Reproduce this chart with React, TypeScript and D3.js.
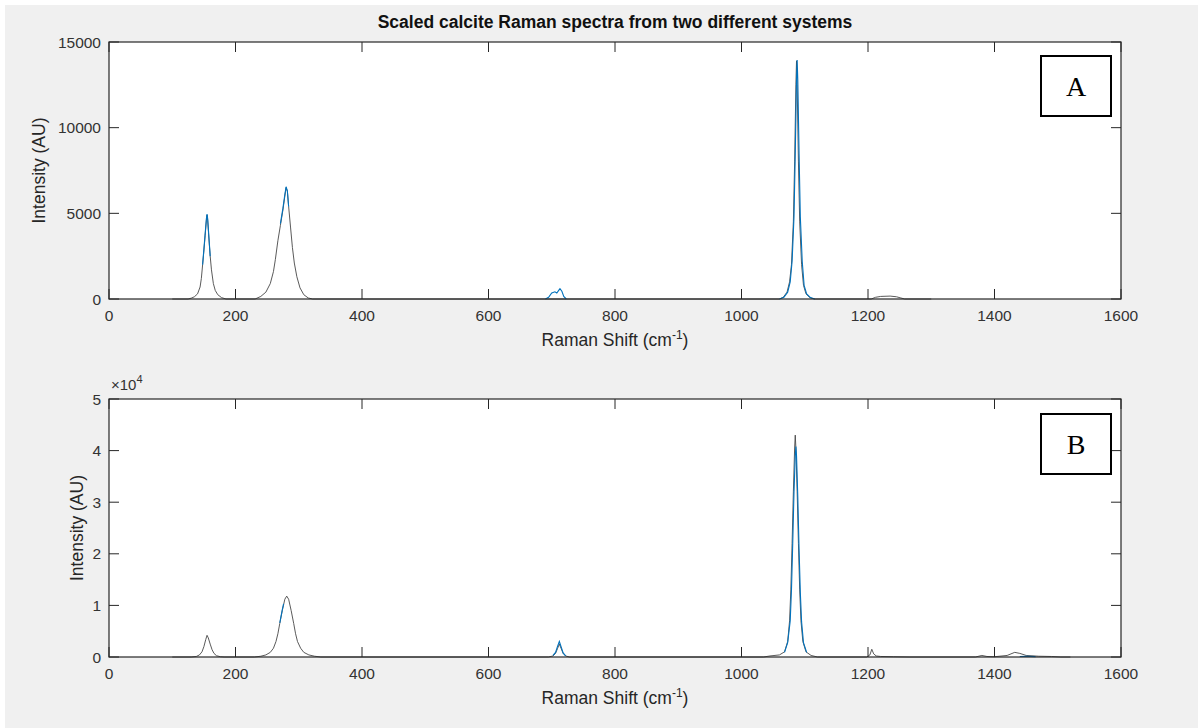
import React from "react";
import * as d3 from "d3";

// ---------- data ----------
const xTicks = [0, 200, 400, 600, 800, 1000, 1200, 1400, 1600];
const aYTicks = [0, 5000, 10000, 15000];
const bYTicks = [0, 10000, 20000, 30000, 40000, 50000];

const chartTitle = "Scaled calcite Raman spectra from two different systems";
const panelLabels = ["A", "B"];

// Panel A: fitted spectrum (dark) and measured spectrum (blue), [shift, intensity]
const aFit: [number, number][] = [
  [100, 0], [125, 0], [130, 50], [135, 130], [140, 300], [144, 700], [146, 1200], [148, 2000],
  [150, 2800], [152, 3700], [154, 4600], [155, 4900], [156, 4600], [158, 3500], [160, 2500],
  [162, 1700], [165, 900], [168, 500], [172, 250], [178, 80], [185, 0],
  [231, 0], [240, 150], [248, 400], [255, 900], [260, 1600], [263, 2300], [267, 3400], [271, 4300],
  [275, 5200], [278, 6000], [280, 6500], [282, 6300], [284, 5400], [287, 4200], [290, 3000],
  [293, 2100], [297, 1300], [302, 650], [308, 250], [315, 60], [322, 0],
  [1060, 0], [1066, 100], [1072, 400], [1076, 1000], [1079, 2000], [1082, 4500], [1084, 8000],
  [1086, 12500], [1087, 13900], [1088, 12500], [1090, 8000], [1092, 4500], [1095, 2000],
  [1098, 800], [1102, 300], [1108, 80], [1115, 0],
  [1205, 0], [1212, 100], [1220, 150], [1235, 170], [1245, 130], [1252, 60], [1258, 0], [1300, 0],
];
const aRaw: [number, number][] = [
  [148, 2000], [150, 2900], [152, 3800], [154, 4700], [155, 4950], [156, 4700], [158, 3600], [160, 2500],
  [NaN, NaN],
  [271, 4400], [275, 5300], [278, 6100], [280, 6550], [282, 6300], [284, 5400],
  [NaN, NaN],
  [690, 0], [695, 100], [700, 350], [705, 420], [708, 350], [711, 500], [713, 600], [716, 450],
  [719, 150], [723, 0],
  [NaN, NaN],
  [1060, 0], [1067, 100], [1073, 400], [1077, 1000], [1080, 2200], [1083, 4800], [1085, 8500],
  [1087, 12800], [1088, 13950], [1089, 12800], [1091, 8500], [1093, 4800], [1096, 2200],
  [1099, 800], [1103, 300], [1109, 80], [1116, 0],
];

// Panel B
const bFit: [number, number][] = [
  [100, 0], [130, 0], [138, 100], [143, 400], [147, 1000], [150, 2000], [153, 3400], [155, 4200],
  [157, 3700], [160, 2500], [163, 1400], [166, 700], [170, 250], [176, 60], [182, 0],
  [230, 0], [240, 150], [248, 400], [255, 900], [260, 1700], [264, 3000], [267, 4500], [270, 6500],
  [274, 9000], [278, 11200], [281, 11800], [284, 11200], [288, 9000], [292, 6500], [295, 4500],
  [298, 3000], [303, 1700], [308, 900], [316, 400], [325, 150], [335, 0],
  [695, 0], [702, 200], [706, 700], [709, 1600], [712, 2500], [715, 1600], [718, 700], [722, 200], [728, 0],
  [1035, 0], [1045, 200], [1060, 400], [1068, 1000], [1073, 3000], [1076, 7000], [1078, 13000],
  [1080, 22000], [1082, 32000], [1084, 40500], [1085, 43000], [1086, 40500], [1088, 32000],
  [1090, 22000], [1092, 13000], [1094, 7000], [1097, 3000], [1102, 1000], [1110, 300], [1120, 0],
  [1198, 0], [1203, 400], [1206, 1500], [1209, 600], [1213, 200], [1220, 100], [1240, 50], [1265, 0],
  [1370, 0], [1380, 300], [1388, 100], [1400, 50], [1420, 300], [1432, 900], [1440, 700],
  [1450, 300], [1470, 150], [1490, 100], [1505, 0], [1520, 0],
];
const bRaw: [number, number][] = [
  [270, 6600], [274, 9200], [276, 10300],
  [NaN, NaN],
  [702, 300], [706, 900], [709, 2000], [712, 3000], [715, 1900], [718, 800], [722, 200],
  [NaN, NaN],
  [1068, 900], [1073, 2800], [1077, 7000], [1079, 13000], [1081, 22000],
  [1083, 32000], [1085, 39000], [1086, 40800], [1087, 39000], [1089, 31000], [1091, 21000],
  [1093, 12500], [1095, 6800], [1098, 2800], [1103, 900],
  [NaN, NaN],
  [1440, 100], [1450, 150], [1465, 80],
];

// ---------- layout ----------
const W = 1198;
const H = 728;
const left = 109;
const right = 1121;
const panels = [
  { top: 42, bottom: 299, yTicks: aYTicks, yMax: 15000, fit: aFit, raw: aRaw, label: panelLabels[0], exp: false,
    tickFmt: (v: number) => String(v), yLabelX: 39, box: { x: 1041, y: 56, w: 70, h: 60 } },
  { top: 399, bottom: 657, yTicks: bYTicks, yMax: 50000, fit: bFit, raw: bRaw, label: panelLabels[1], exp: true,
    tickFmt: (v: number) => String(v / 10000), yLabelX: 77, box: { x: 1041, y: 414, w: 70, h: 60 } },
];

const axisColor = "#262626";
const font = "'Liberation Sans', Arial, Helvetica, sans-serif";

function Panel({ p }: { p: (typeof panels)[number] }) {
  const x = d3.scaleLinear().domain([0, 1600]).range([left, right]);
  const y = d3.scaleLinear().domain([0, p.yMax]).range([p.bottom, p.top]);
  const line = d3
    .line<[number, number]>()
    .defined((d) => !isNaN(d[0]))
    .x((d) => x(d[0]))
    .y((d) => y(d[1]));
  const tl = 10;
  const midX = (left + right) / 2;
  const midY = (p.top + p.bottom) / 2;
  return (
    <g>
      <rect x={left} y={p.top} width={right - left} height={p.bottom - p.top} fill="#fff" />
      <path d={line(p.fit) || ""} fill="none" stroke="#474747" strokeWidth={0.9} />
      <path d={line(p.raw) || ""} fill="none" stroke="#0072BD" strokeWidth={1.1} />
      {/* frame */}
      <rect x={left} y={p.top} width={right - left} height={p.bottom - p.top} fill="none" stroke={axisColor} strokeWidth={1.2} />
      {/* x ticks */}
      {xTicks.map((t) => (
        <g key={"x" + t}>
          <line x1={x(t)} x2={x(t)} y1={p.bottom} y2={p.bottom - tl} stroke={axisColor} strokeWidth={1} />
          <line x1={x(t)} x2={x(t)} y1={p.top} y2={p.top + tl} stroke={axisColor} strokeWidth={1} />
          <text x={x(t)} y={p.bottom + 22} textAnchor="middle" fontFamily={font} fontSize={15.5} fill="#333">
            {t}
          </text>
        </g>
      ))}
      {/* y ticks */}
      {p.yTicks.map((t) => (
        <g key={"y" + t}>
          <line x1={left} x2={left + tl} y1={y(t)} y2={y(t)} stroke={axisColor} strokeWidth={1} />
          <line x1={right} x2={right - tl} y1={y(t)} y2={y(t)} stroke={axisColor} strokeWidth={1} />
          <text x={left - 8} y={y(t) + 5.5} textAnchor="end" fontFamily={font} fontSize={15.5} fill="#333">
            {p.tickFmt(t)}
          </text>
        </g>
      ))}
      {p.exp && (
        <text x={left + 2} y={p.top - 9} fontFamily={font} fontSize={15} fill="#333">
          ×10
          <tspan dy={-7} fontSize={11}>4</tspan>
        </text>
      )}
      {/* axis labels */}
      <text x={midX} y={p.bottom + 47} textAnchor="middle" fontFamily={font} fontSize={17.5} fill="#262626">
        Raman Shift (cm
        <tspan dy={-7} fontSize={12}>-1</tspan>
        <tspan dy={7}>)</tspan>
      </text>
      <text
        transform={`translate(${p.yLabelX},${midY}) rotate(-90)`}
        textAnchor="middle"
        dominantBaseline="central"
        fontFamily={font}
        fontSize={17.5}
        fill="#262626"
      >
        Intensity (AU)
      </text>
      {/* panel tag */}
      <rect x={p.box.x} y={p.box.y} width={p.box.w} height={p.box.h} fill="#fff" stroke="#000" strokeWidth={2} />
      <text
        x={p.box.x + p.box.w / 2}
        y={p.box.y + p.box.h / 2 + 10}
        textAnchor="middle"
        fontFamily="'Liberation Serif', 'Times New Roman', serif"
        fontSize={28}
        fill="#000"
      >
        {p.label}
      </text>
    </g>
  );
}

export default function App() {
  return (
    <svg
      width={W}
      height={H}
      style={{ position: "absolute", left: 0, top: 0, display: "block" }}
      xmlns="http://www.w3.org/2000/svg"
    >
      <rect x={0} y={0} width={W} height={H} fill="#fff" />
      <rect x={5} y={5} width={W - 5} height={H - 5} fill="#f0f0f0" />
      <text x={(left + right) / 2} y={28} textAnchor="middle" fontFamily={font} fontWeight="bold" fontSize={17.5} fill="#111">
        {chartTitle}
      </text>
      {panels.map((p, i) => (
        <Panel key={i} p={p} />
      ))}
    </svg>
  );
}
